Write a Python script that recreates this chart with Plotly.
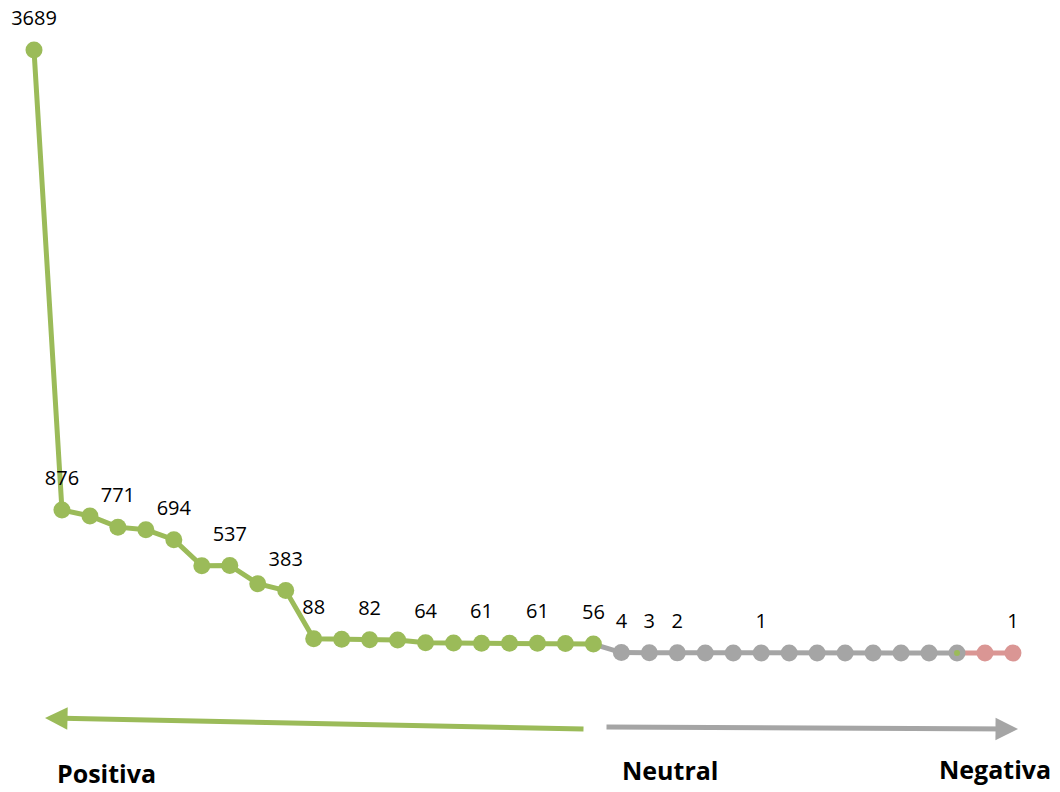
import plotly.graph_objects as go

# Data
values = [3689, 876, 839, 771, 755, 694, 535, 537, 425, 383,
          88, 86, 82, 81, 64, 62, 61, 61, 61, 59, 56,
          4, 3, 2, 1, 1, 1, 1, 1, 1, 1, 1, 1, 1,
          1, 1]
labels = ["3689", "876", "", "771", "", "694", "", "537", "", "383",
          "88", "", "82", "", "64", "", "61", "", "61", "", "56",
          "4", "3", "2", "", "", "1", "", "", "", "", "", "", "",
          "", "1"]
idx = list(range(len(values)))

GREEN = "#9BBB59"
GRAY = "#A5A5A5"
RED = "#DA9694"

pos = slice(0, 21)       # positive
neu = slice(21, 34)      # neutral
neg = slice(34, 36)      # negative

W, H = 1060, 792

fig = go.Figure()
fig.add_trace(go.Scatter(x=idx[20:34], y=values[20:34], mode="lines",
                         line=dict(color=GRAY, width=5), hoverinfo="skip"))
fig.add_trace(go.Scatter(x=idx[33:36], y=values[33:36], mode="lines",
                         line=dict(color=RED, width=5), hoverinfo="skip"))
fig.add_trace(go.Scatter(x=idx[pos], y=values[pos], mode="lines+markers",
                         line=dict(color=GREEN, width=5),
                         marker=dict(color=GREEN, size=17)))
fig.add_trace(go.Scatter(x=idx[neu], y=values[neu], mode="markers",
                         marker=dict(color=GRAY, size=17)))
fig.add_trace(go.Scatter(x=[idx[33]], y=[values[33]], mode="markers",
                         marker=dict(color=GREEN, size=6)))
fig.add_trace(go.Scatter(x=idx[neg], y=values[neg], mode="markers",
                         marker=dict(color=RED, size=17)))
# data labels (invisible larger markers push the text upward)
fig.add_trace(go.Scatter(x=idx, y=values, mode="markers+text", text=labels,
                         textposition="top center", cliponaxis=False,
                         marker=dict(size=30, opacity=0),
                         textfont=dict(family="Open Sans", size=20, color="#000000"),
                         hoverinfo="skip"))

step = 27.97
xmin = -34 / step
xmax = xmin + W / step
scale = 0.1635
y0 = 653.2
ymax = y0 / scale
ymin = -(H - y0) / scale

fig.update_layout(
    width=W, height=H,
    margin=dict(l=0, r=0, t=0, b=0),
    paper_bgcolor="white", plot_bgcolor="white",
    showlegend=False,
    xaxis=dict(range=[xmin, xmax], visible=False, fixedrange=True),
    yaxis=dict(range=[ymin, ymax], visible=False, fixedrange=True),
)


def px(x):
    return x / W


def py(y):
    return 1 - y / H


fig.add_annotation(xref="paper", yref="paper", x=px(45), y=py(718),
                   ax=585 - 45, ay=729 - 718,
                   showarrow=True, arrowhead=2, arrowsize=0.9, arrowwidth=5,
                   arrowcolor=GREEN, text="")
fig.add_annotation(xref="paper", yref="paper", x=px(1018), y=py(729),
                   ax=605 - 1018, ay=727 - 729,
                   showarrow=True, arrowhead=2, arrowsize=0.9, arrowwidth=5,
                   arrowcolor=GRAY, text="")

for txt, cx, cy in [("Positiva", 106, 773), ("Neutral", 670, 770), ("Negativa", 995, 769)]:
    fig.add_annotation(xref="paper", yref="paper", x=px(cx), y=py(cy),
                       text="<b>%s</b>" % txt, showarrow=False,
                       xanchor="center", yanchor="middle",
                       font=dict(family="Open Sans", size=25, color="#000000"))

fig.write_html("out.html", config={"displayModeBar": False},
               post_script="document.body.style.margin='0';document.body.style.overflow='hidden';")
